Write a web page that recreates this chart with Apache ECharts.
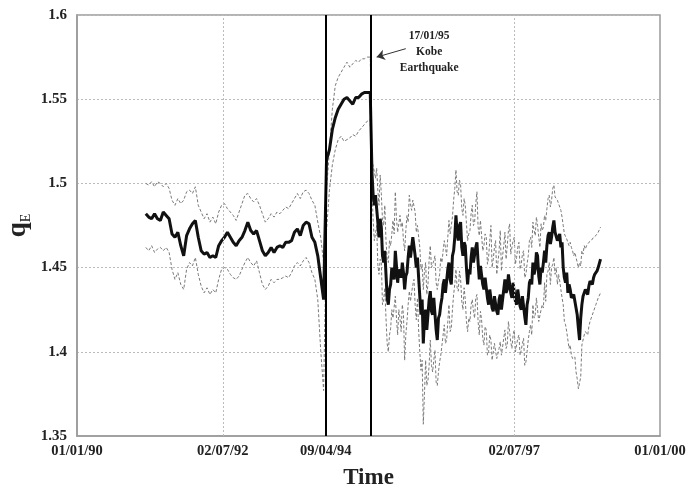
<!DOCTYPE html>
<html>
<head>
<meta charset="utf-8">
<title>q_E over time</title>
<script src="https://cdn.jsdelivr.net/npm/echarts@6/dist/echarts.min.js"></script>
<style>
  html, body { margin: 0; padding: 0; background: #fff; }
  #chart { width: 687px; height: 490px; }
</style>
</head>
<body>
<div id="chart"></div>
<script>
// Sampling grid (decimal years) for the two stretches of the estimate
const tStartPre = 1991.18, tStepPre = 0.05;    // up to the Kobe earthquake
const tStartPost = 1995.06, tStepPost = 0.04;  // after the Kobe earthquake
const tHalfPost = 0.02;                        // offset of the in-between readings

// q_E estimate and its upper / lower bands, before 17/01/95
const midPre = [
  1.482,1.480,1.479,1.482,1.479,1.478,1.483,1.481,1.479,1.470,
  1.468,1.471,1.463,1.457,1.469,1.473,1.476,1.478,1.468,1.460,
  1.458,1.459,1.456,1.457,1.456,1.463,1.466,1.468,1.471,1.468,
  1.465,1.463,1.466,1.468,1.472,1.477,1.472,1.470,1.472,1.466,
  1.460,1.457,1.459,1.462,1.459,1.462,1.463,1.462,1.465,1.465,
  1.466,1.471,1.473,1.469,1.475,1.477,1.476,1.468,1.465,1.457,
  1.444,1.431,1.514,1.520,1.532,1.539,1.544,1.547,1.550,1.551,
  1.549,1.547,1.551,1.551,1.553,1.554,1.554,1.554
];
const upperPre = [
  1.500,1.499,1.501,1.498,1.501,1.500,1.498,1.500,1.497,1.490,
  1.487,1.491,1.488,1.490,1.495,1.496,1.494,1.498,1.487,1.483,
  1.479,1.482,1.477,1.480,1.476,1.483,1.487,1.488,1.485,1.483,
  1.481,1.478,1.483,1.488,1.493,1.494,1.491,1.489,1.491,1.487,
  1.482,1.477,1.479,1.482,1.480,1.483,1.482,1.484,1.486,1.485,
  1.488,1.491,1.494,1.491,1.495,1.496,1.494,1.490,1.487,1.477,
  1.468,1.453,1.496,1.520,1.544,1.558,1.563,1.566,1.569,1.572,
  1.569,1.571,1.573,1.572,1.574,1.574,1.575,1.575
];
const lowerPre = [
  1.462,1.460,1.463,1.459,1.461,1.462,1.460,1.462,1.459,1.449,
  1.443,1.447,1.440,1.437,1.449,1.453,1.451,1.456,1.446,1.439,
  1.435,1.438,1.434,1.437,1.435,1.443,1.449,1.450,1.449,1.446,
  1.444,1.443,1.445,1.449,1.453,1.456,1.453,1.451,1.454,1.447,
  1.440,1.437,1.439,1.443,1.441,1.443,1.443,1.444,1.445,1.444,
  1.447,1.451,1.453,1.451,1.454,1.456,1.453,1.447,1.443,1.431,
  1.401,1.377,1.472,1.496,1.511,1.520,1.526,1.528,1.525,1.526,
  1.527,1.529,1.528,1.531,1.533,1.535,1.537,1.538
];

// After 17/01/95: readings on the grid, and readings half a step later
const midPost = [
  1.506,1.487,1.493,1.468,1.474,1.453,1.446,1.428,1.440,1.449,
  1.460,1.441,1.450,1.453,1.437,1.447,1.463,1.457,1.469,1.450,
  1.444,1.422,1.405,1.425,1.414,1.436,1.422,1.431,1.407,1.422,
  1.432,1.443,1.434,1.453,1.440,1.460,1.481,1.466,1.477,1.457,
  1.463,1.440,1.446,1.462,1.452,1.465,1.443,1.450,1.437,1.443,
  1.428,1.436,1.424,1.432,1.422,1.434,1.426,1.443,1.437,1.447,
  1.432,1.441,1.428,1.437,1.425,1.433,1.416,1.432,1.443,1.453,
  1.449,1.457,1.440,1.447,1.460,1.463,1.471,1.468,1.478,1.471,
  1.466,1.462,1.450,1.441,1.435,1.437,1.431,1.433,1.422,1.407,
  1.428,1.432,1.437,1.439,1.441,1.444,1.446,1.450,1.455
];
const midPostHalf = [
  1.493,1.493,1.477,1.479,1.457,1.460,1.432,1.437,1.450,1.443,
  1.451,1.449,1.444,1.447,1.445,1.456,1.456,1.468,1.457,1.456,
  1.433,1.431,1.420,1.413,1.431,1.424,1.432,1.413,1.420,1.428,
  1.440,1.435,1.449,1.443,1.457,1.468,1.471,1.475,1.462,1.465,
  1.450,1.449,1.456,1.453,1.462,1.453,1.451,1.440,1.444,1.432,
  1.437,1.426,1.433,1.424,1.431,1.425,1.437,1.435,1.446,1.435,
  1.441,1.430,1.437,1.427,1.433,1.421,1.428,1.441,1.440,1.446,
  1.459,1.445,1.450,1.453,1.453,1.469,1.464,1.474,1.471,1.466,
  1.470,1.465,1.444,1.447,1.440,1.432,1.434,1.426,1.414,1.420,
  1.433,1.437,1.434,1.442,1.440,1.446,1.448,1.450
];
const upperPost = [
  1.514,1.507,1.509,1.487,1.494,1.475,1.466,1.453,1.463,1.478,
  1.495,1.471,1.481,1.477,1.460,1.481,1.493,1.484,1.490,1.471,
  1.475,1.449,1.437,1.453,1.440,1.463,1.449,1.457,1.437,1.446,
  1.453,1.466,1.457,1.478,1.469,1.490,1.508,1.493,1.499,1.481,
  1.487,1.466,1.472,1.487,1.477,1.495,1.469,1.477,1.463,1.468,
  1.456,1.475,1.455,1.466,1.453,1.472,1.457,1.471,1.463,1.476,
  1.459,1.468,1.456,1.465,1.452,1.460,1.446,1.457,1.468,1.477,
  1.469,1.475,1.462,1.472,1.481,1.485,1.493,1.490,1.499,1.493,
  1.489,1.484,1.475,1.469,1.466,1.465,1.460,1.459,1.453,1.453,
  1.460,1.463,1.463,1.465,1.466,1.468,1.469,1.471,1.474
];
const upperPostHalf = [
  1.510,1.503,1.496,1.505,1.478,1.487,1.455,1.466,1.470,1.470,
  1.479,1.470,1.474,1.466,1.472,1.477,1.487,1.490,1.483,1.475,
  1.462,1.452,1.448,1.434,1.455,1.450,1.454,1.441,1.442,1.456,
  1.460,1.462,1.468,1.470,1.480,1.497,1.495,1.502,1.485,1.491,
  1.476,1.470,1.482,1.475,1.488,1.474,1.478,1.460,1.470,1.452,
  1.466,1.450,1.462,1.446,1.460,1.448,1.463,1.455,1.472,1.458,
  1.466,1.452,1.462,1.449,1.458,1.444,1.452,1.466,1.462,1.472,
  1.480,1.468,1.476,1.474,1.478,1.491,1.486,1.497,1.492,1.490,
  1.486,1.480,1.470,1.467,1.463,1.462,1.457,1.456,1.450,1.451,
  1.458,1.461,1.462,1.464,1.465,1.467,1.468,1.471
];
const lowerPost = [
  1.496,1.466,1.475,1.446,1.453,1.431,1.420,1.400,1.414,1.420,
  1.433,1.410,1.420,1.428,1.395,1.418,1.436,1.431,1.443,1.419,
  1.413,1.389,1.357,1.395,1.383,1.407,1.388,1.401,1.380,1.394,
  1.404,1.416,1.407,1.428,1.414,1.434,1.449,1.436,1.443,1.425,
  1.431,1.412,1.418,1.431,1.420,1.434,1.410,1.419,1.404,1.413,
  1.400,1.407,1.396,1.404,1.395,1.406,1.398,1.413,1.404,1.418,
  1.402,1.413,1.404,1.410,1.401,1.408,1.394,1.407,1.416,1.428,
  1.422,1.431,1.419,1.428,1.441,1.446,1.453,1.450,1.456,1.450,
  1.446,1.437,1.428,1.416,1.407,1.404,1.396,1.397,1.384,1.377,
  1.404,1.410,1.413,1.415,1.420,1.424,1.428,1.432,1.435
];
const lowerPostHalf = [
  1.478,1.470,1.452,1.455,1.428,1.438,1.405,1.410,1.425,1.420,
  1.420,1.425,1.412,1.422,1.410,1.428,1.430,1.440,1.428,1.432,
  1.400,1.395,1.375,1.380,1.392,1.392,1.395,1.382,1.388,1.398,
  1.410,1.405,1.418,1.412,1.425,1.440,1.438,1.448,1.430,1.438,
  1.418,1.420,1.428,1.424,1.432,1.418,1.424,1.408,1.415,1.398,
  1.410,1.395,1.405,1.396,1.402,1.398,1.408,1.402,1.418,1.406,
  1.410,1.400,1.408,1.398,1.405,1.392,1.400,1.412,1.410,1.420,
  1.432,1.418,1.425,1.426,1.430,1.448,1.440,1.452,1.446,1.440,
  1.442,1.432,1.418,1.412,1.402,1.398,1.396,1.388,1.378,1.385,
  1.405,1.412,1.410,1.418,1.420,1.426,1.430,1.432
];

// Axis ticks: dates and their printed labels
const tickDates = [1990, 1992.5, 1994.268, 1997.5, 2000];
const tickLabels = ['01/01/90', '02/07/92', '09/04/94', '02/07/97', '01/01/00'];
const gridDates = [1992.5, 1997.5];          // dotted vertical grid lines
const eventDates = [1994.268, 1995.044];     // 09/04/94 and 17/01/95 (Kobe)

// Annotation for the earthquake
const noteText = '17/01/95\nKobe\nEarthquake';
const noteAt = [1996.04, 1.5782];
const arrowFrom = [1995.64, 1.5800];
const arrowTo = [1995.14, 1.5750];

function pairs(start, step, values) {
  return values.map((v, i) => [+(start + step * i).toFixed(3), v]);
}
// merge on-grid and half-step readings into one time-ordered list
function interleave(onGrid, half, start, step, offset) {
  const out = [];
  onGrid.forEach((v, i) => {
    out.push([+(start + step * i).toFixed(3), v]);
    if (i < half.length) out.push([+(start + step * i + offset).toFixed(3), half[i]]);
  });
  return out;
}
const midData = pairs(tStartPre, tStepPre, midPre)
  .concat(interleave(midPost, midPostHalf, tStartPost, tStepPost, tHalfPost));
const upperData = pairs(tStartPre, tStepPre, upperPre)
  .concat(interleave(upperPost, upperPostHalf, tStartPost, tStepPost, tHalfPost));
const lowerData = pairs(tStartPre, tStepPre, lowerPre)
  .concat(interleave(lowerPost, lowerPostHalf, tStartPost, tStepPost, tHalfPost));

const serif = "'Liberation Serif', 'Times New Roman', serif";
const chart = echarts.init(document.getElementById('chart'), null, { renderer: 'canvas' });

const bandStyle = { color: '#7a7a7a', width: 1, type: [3, 2] };

chart.setOption({
  animation: false,
  backgroundColor: '#fff',
  grid: {
    left: 77, right: 27, top: 15, bottom: 54,
    outerBoundsMode: 'none', containLabel: false,
    show: true, borderColor: '#9a9a9a', borderWidth: 1.5
  },
  xAxis: {
    type: 'value', min: 1990, max: 2000,
    name: 'Time', nameLocation: 'middle', nameGap: 31, nameMoveOverlap: false,
    nameTextStyle: { fontFamily: serif, fontWeight: 'bold', fontSize: 23, color: '#222' },
    axisLine: { show: true, lineStyle: { color: '#9a9a9a', width: 1.5 } },
    axisTick: { show: false },
    splitLine: { show: false },
    axisLabel: {
      customValues: tickDates,
      margin: 8,
      fontFamily: serif, fontWeight: 'bold', fontSize: 14.5, color: '#222',
      formatter: function (v) {
        let k = 0;
        tickDates.forEach((d, i) => { if (Math.abs(d - v) < Math.abs(tickDates[k] - v)) k = i; });
        return tickLabels[k];
      }
    }
  },
  yAxis: {
    type: 'value', min: 1.35, max: 1.6, interval: 0.05,
    name: '{q|q}{e|E}', nameLocation: 'middle', nameGap: 44, nameMoveOverlap: false,
    nameTextStyle: {
      color: '#222',
      rich: {
        q: { fontFamily: serif, fontWeight: 'bold', fontSize: 27, lineHeight: 30, color: '#222' },
        e: { fontFamily: serif, fontSize: 14, verticalAlign: 'bottom', lineHeight: 30, color: '#222' }
      }
    },
    axisLine: { show: true, lineStyle: { color: '#9a9a9a', width: 1.5 } },
    axisTick: { show: false },
    splitLine: { show: true, lineStyle: { color: '#bbbbbb', width: 1, type: [2, 2] } },
    axisLabel: {
      margin: 10,
      fontFamily: serif, fontWeight: 'bold', fontSize: 15, color: '#222',
      formatter: v => String(+v.toFixed(2))
    }
  },
  series: [
    {
      name: 'upper', type: 'line', data: upperData, symbol: 'none',
      lineStyle: bandStyle, z: 2,
      markLine: {
        silent: true, symbol: 'none', label: { show: false },
        lineStyle: { color: '#bbbbbb', width: 1, type: [2, 2] },
        data: gridDates.map(d => ({ xAxis: d }))
      }
    },
    {
      name: 'lower', type: 'line', data: lowerData, symbol: 'none',
      lineStyle: bandStyle, z: 2,
      markLine: {
        silent: true, symbol: ['none', 'arrow'], symbolSize: 8,
        label: { show: false },
        lineStyle: { color: '#333', width: 1, type: 'solid' },
        data: [[{ coord: arrowFrom }, { coord: arrowTo }]]
      }
    },
    {
      name: 'q_E', type: 'line', data: midData, symbol: 'none',
      lineStyle: { color: '#111', width: 3 }, z: 3,
      markLine: {
        silent: true, symbol: 'none', label: { show: false },
        lineStyle: { color: '#000', width: 2, type: 'solid' },
        data: eventDates.map(d => ({ xAxis: d }))
      },
      markPoint: {
        silent: true, symbol: 'rect', symbolSize: 1,
        itemStyle: { color: 'rgba(0,0,0,0)' },
        label: {
          show: true, position: 'inside', formatter: noteText,
          fontFamily: serif, fontWeight: 'bold', fontSize: 11.5, lineHeight: 16, color: '#222', align: 'center'
        },
        data: [{ coord: noteAt }]
      }
    }
  ]
});
</script>
</body>
</html>
